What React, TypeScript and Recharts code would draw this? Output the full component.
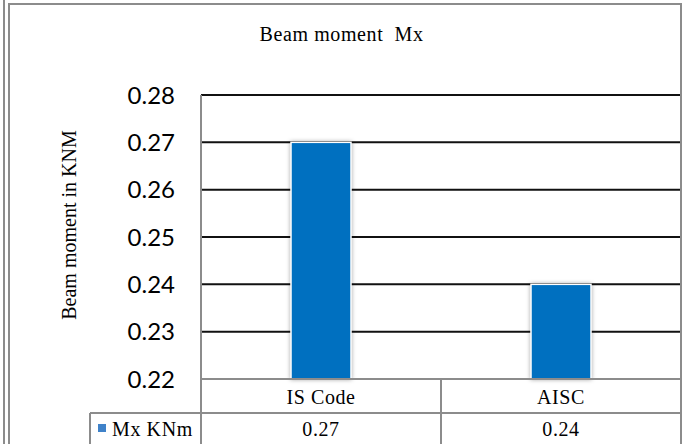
import { BarChart, Bar, XAxis, YAxis, CartesianGrid } from "recharts";

// Chart values
const categories = ["IS Code", "AISC"];
const mxValues = [0.27, 0.24];
const seriesName = "Mx KNm";
const yTicks = [0.22, 0.23, 0.24, 0.25, 0.26, 0.27, 0.28];

const data = categories.map((name, i) => ({ name, mx: mxValues[i] }));

const SERIF = "'Liberation Serif', 'Times New Roman', serif";
const GRAY = "#8c8c8c";
const BLUE = "#0070C0";

// data table under the plot, one cell per category
function TableTick(props: any) {
  const { x, y, payload, index } = props;
  const half = payload.offset ?? 120;
  const left = x - half;
  const right = x + half;
  const rowY = y + 34;
  const bottom = 444;
  return (
    <g>
      <text
        x={x}
        y={y + 25}
        textAnchor="middle"
        fontFamily={SERIF}
        fontSize={20}
        letterSpacing={0.6}
        fill="#000"
      >
        {payload.value}
      </text>
      <text
        x={x}
        y={y + 57}
        textAnchor="middle"
        fontFamily={SERIF}
        fontSize={20}
        letterSpacing={0.6}
        fill="#000"
      >
        {mxValues[index].toFixed(2)}
      </text>
      <line x1={left} x2={right} y1={rowY} y2={rowY} stroke={GRAY} strokeWidth={2} />
      <line x1={right} x2={right} y1={y} y2={bottom} stroke={GRAY} strokeWidth={2} />
      {index === 0 && (
        <g>
          <line x1={left} x2={left} y1={y} y2={bottom} stroke={GRAY} strokeWidth={2} />
          <line x1={90} x2={left} y1={rowY} y2={rowY} stroke={GRAY} strokeWidth={2} />
          <line x1={90} x2={90} y1={rowY} y2={bottom} stroke={GRAY} strokeWidth={2} />
          <rect x={98} y={424} width={8} height={8} fill="#3f82c9" />
          <text
            x={112}
            y={y + 57}
            fontFamily={SERIF}
            fontSize={20}
            letterSpacing={0.6}
            fill="#000"
          >
            {seriesName}
          </text>
        </g>
      )}
    </g>
  );
}

function BarShape(props: any) {
  const { x, y, width, height } = props;
  return (
    <rect
      x={x}
      y={y}
      width={width}
      height={height}
      fill={BLUE}
      stroke="#ffffff"
      strokeWidth={1.5}
      style={{ filter: "drop-shadow(0px 0px 2px rgba(0,0,0,0.35))" }}
    />
  );
}

export default function App() {
  return (
    <div
      style={{
        position: "fixed",
        left: 0,
        top: 0,
        width: 683,
        height: 444,
        background: "#fff",
        overflow: "hidden",
      }}
    >
      <BarChart
        width={683}
        height={444}
        data={data}
        margin={{ top: 95, right: 2, bottom: 0, left: 0 }}
        barSize={60}
      >
        <CartesianGrid vertical={false} stroke="#111" strokeWidth={2} />
        <XAxis
          dataKey="name"
          height={65}
          interval={0}
          tickLine={false}
          tickSize={0}
          tickMargin={0}
          axisLine={{ stroke: GRAY, strokeWidth: 2 }}
          tick={<TableTick />}
        />
        <YAxis
          width={201}
          domain={[0.22, 0.28]}
          ticks={yTicks}
          tickFormatter={(v: number) => v.toFixed(2)}
          tickLine={false}
          tickSize={0}
          tickMargin={26}
          axisLine={{ stroke: GRAY, strokeWidth: 2 }}
          tick={{ fontSize: 24, fill: "#000", fontFamily: "Lato, sans-serif" }}
          label={{
            content: () => (
              <text
                x={76}
                y={225}
                transform="rotate(-90 76 225)"
                textAnchor="middle"
                fontFamily={SERIF}
                fontSize={20}
                fill="#000"
              >
                Beam moment in KNM
              </text>
            ),
          }}
        />
        <Bar dataKey="mx" name={seriesName} isAnimationActive={false} shape={<BarShape />} />
      </BarChart>

      <div
        style={{
          position: "absolute",
          left: 0,
          top: 24,
          width: 683,
          textAlign: "center",
          fontFamily: SERIF,
          fontSize: 20,
          lineHeight: "20px",
          letterSpacing: 0.6,
          color: "#000",
        }}
      >
        Beam moment&nbsp; Mx
      </div>

      {/* outer frame */}
      <div style={{ position: "absolute", left: 3, top: 0, width: 2, height: 444, background: GRAY }} />
      <div style={{ position: "absolute", left: 8, top: 3, width: 2, height: 441, background: GRAY }} />
      <div style={{ position: "absolute", left: 8, top: 3, width: 674, height: 2, background: GRAY }} />
      <div style={{ position: "absolute", left: 680, top: 3, width: 2, height: 441, background: GRAY }} />
    </div>
  );
}
